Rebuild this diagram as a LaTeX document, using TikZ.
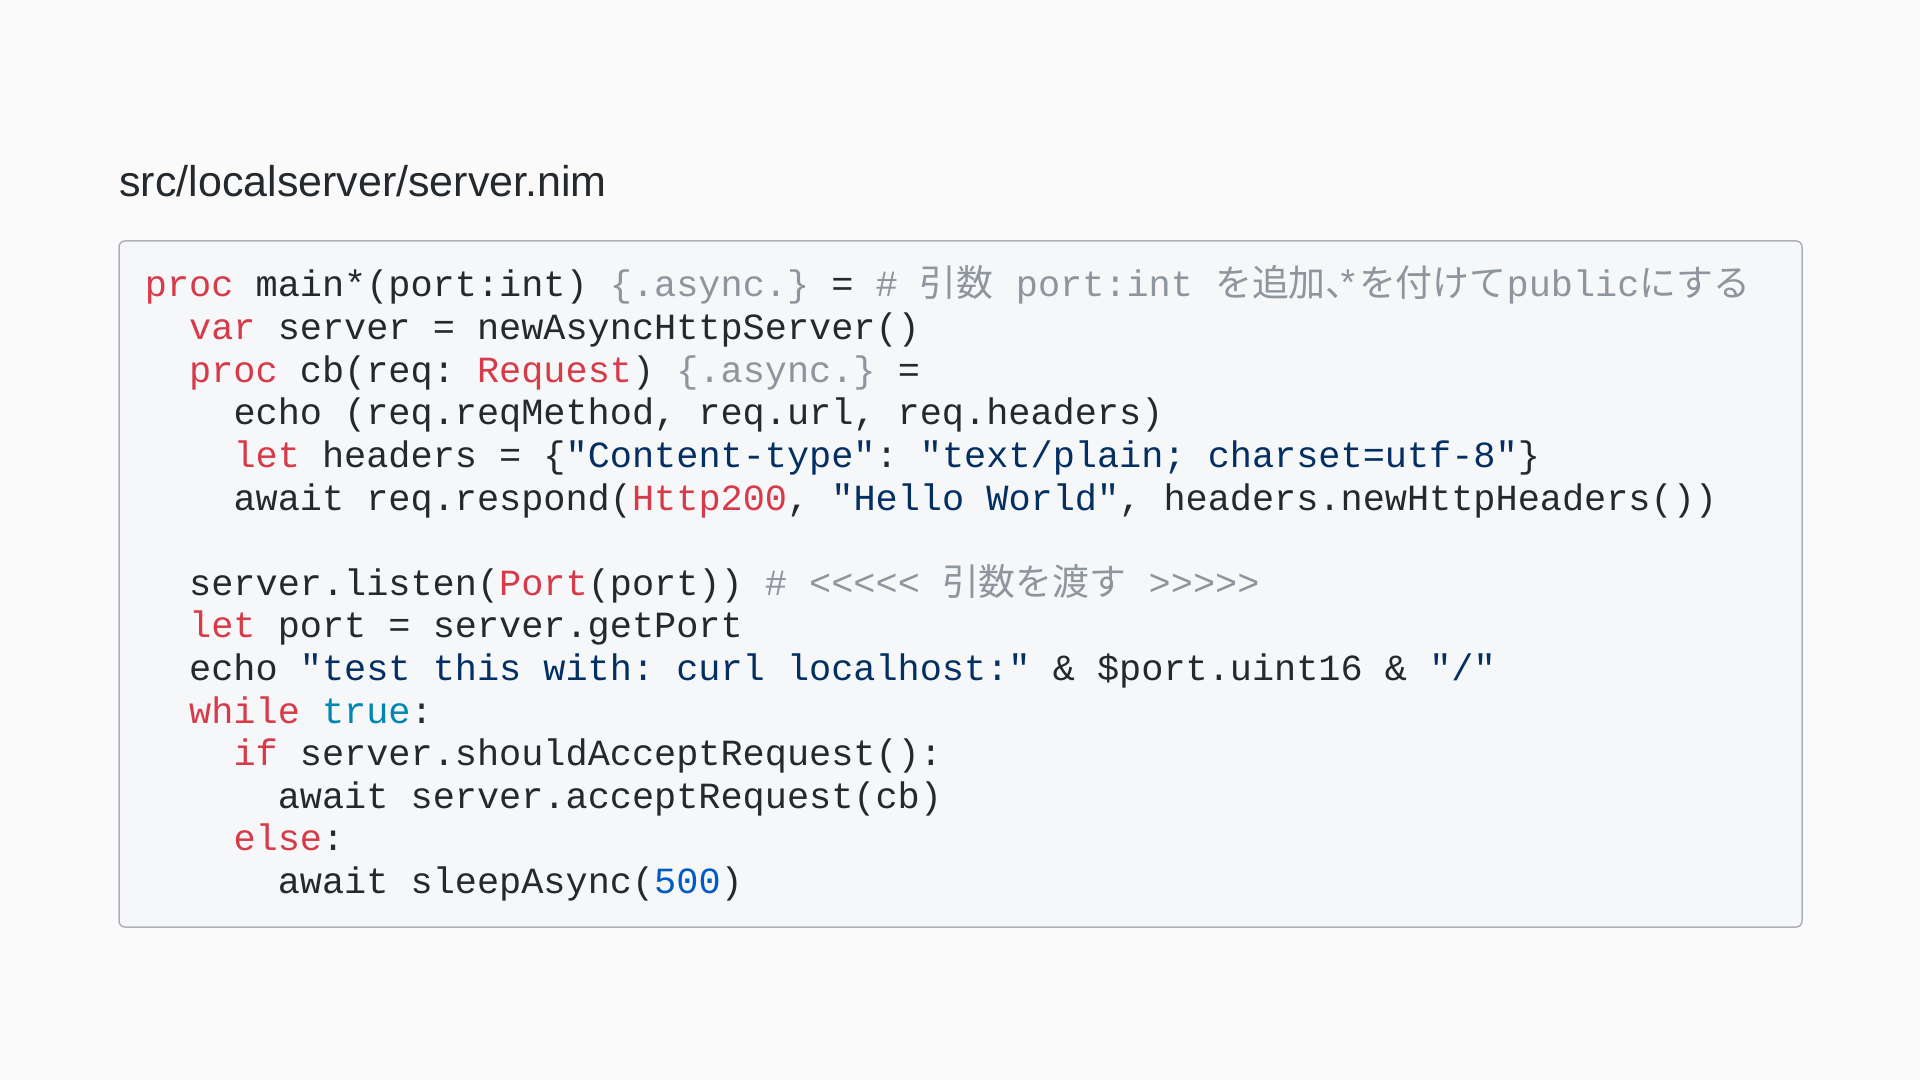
\documentclass[tikz,border=0pt]{standalone}
\usepackage{fontspec}
\setmainfont{Liberation Sans}
\setmonofont{Liberation Mono}
\newfontfamily\jpfont{Noto Sans CJK JP}
\usetikzlibrary{positioning}

\definecolor{pagebg}{HTML}{FAFAFB}
\definecolor{boxbg}{HTML}{F6F7F9}
\definecolor{boxline}{HTML}{ADB1B7}
\definecolor{plain}{HTML}{24292E}
\definecolor{kwred}{HTML}{D73A49}
\definecolor{strblue}{HTML}{032F62}
\definecolor{cmgrey}{HTML}{8E959C}
\definecolor{numblue}{HTML}{005CC5}
\definecolor{boolteal}{HTML}{0086B3}

\newcommand{\ckw}[1]{\textcolor{kwred}{#1}}
\newcommand{\cstr}[1]{\textcolor{strblue}{#1}}
\newcommand{\ccm}[1]{\textcolor{cmgrey}{#1}}
\newcommand{\cnum}[1]{\textcolor{numblue}{#1}}
\newcommand{\cbool}[1]{\textcolor{boolteal}{#1}}
\newcommand{\jp}[1]{{\jpfont #1}}

\begin{document}
\begin{tikzpicture}[
x=0.5pt, y=-0.5pt,
title/.style={anchor=base west, inner sep=0pt, text=plain, font=\fontsize{21.5pt}{24pt}\selectfont},
code/.style={anchor=base west, inner sep=0pt, text=plain, font=\fontsize{18.45pt}{20pt}\selectfont\ttfamily},
codebox/.style={draw=boxline, fill=boxbg, line width=0.75pt, rounded corners=3pt}
]
%Background
\fill[pagebg] (0,0) rectangle (1920,1080);
\draw[codebox] (119,241) rectangle (1802,927);

%Nodes
\node[title] (fname) at (119,197) {src/localserver/server.nim};

\node[code] (L1)  at (144.5,297)   {\ckw{proc} main*(port:int) \ccm{\{.async.\}} = \ccm{\# \jp{引数} port:int \jp{を追加\makebox[0.3em][l]{、}}*\jp{を付けて}public\jp{にする}}};
\node[code] (L2)  at (188.8,339.6) {\ckw{var} server = newAsyncHttpServer()};
\node[code] (L3)  at (188.8,382.2) {\ckw{proc} cb(req: \ckw{Request}) \ccm{\{.async.\}} =};
\node[code] (L4)  at (233.1,424.8) {echo (req.reqMethod, req.url, req.headers)};
\node[code] (L5)  at (233.1,467.4) {\ckw{let} headers = \{\cstr{"Content-type"}: \cstr{"text/plain; charset=utf-8"}\}};
\node[code] (L6)  at (233.1,510)   {await req.respond(\ckw{Http200}, \cstr{"Hello World"}, headers.newHttpHeaders())};

\node[code] (L8)  at (188.8,595.2) {server.listen(\ckw{Port}(port)) \ccm{\# <<<<< \jp{引数を渡す} >>>>>}};
\node[code] (L9)  at (188.8,637.8) {\ckw{let} port = server.getPort};
\node[code] (L10) at (188.8,680.4) {echo \cstr{"test this with: curl localhost:"} \& \$port.uint16 \& \cstr{"/"}};
\node[code] (L11) at (188.8,723)   {\ckw{while} \cbool{true}:};
\node[code] (L12) at (233.1,765.6) {\ckw{if} server.shouldAcceptRequest():};
\node[code] (L13) at (277.4,808.2) {await server.acceptRequest(cb)};
\node[code] (L14) at (233.1,850.8) {\ckw{else}:};
\node[code] (L15) at (277.4,893.4) {await sleepAsync(\cnum{500})};
\end{tikzpicture}
\end{document}
